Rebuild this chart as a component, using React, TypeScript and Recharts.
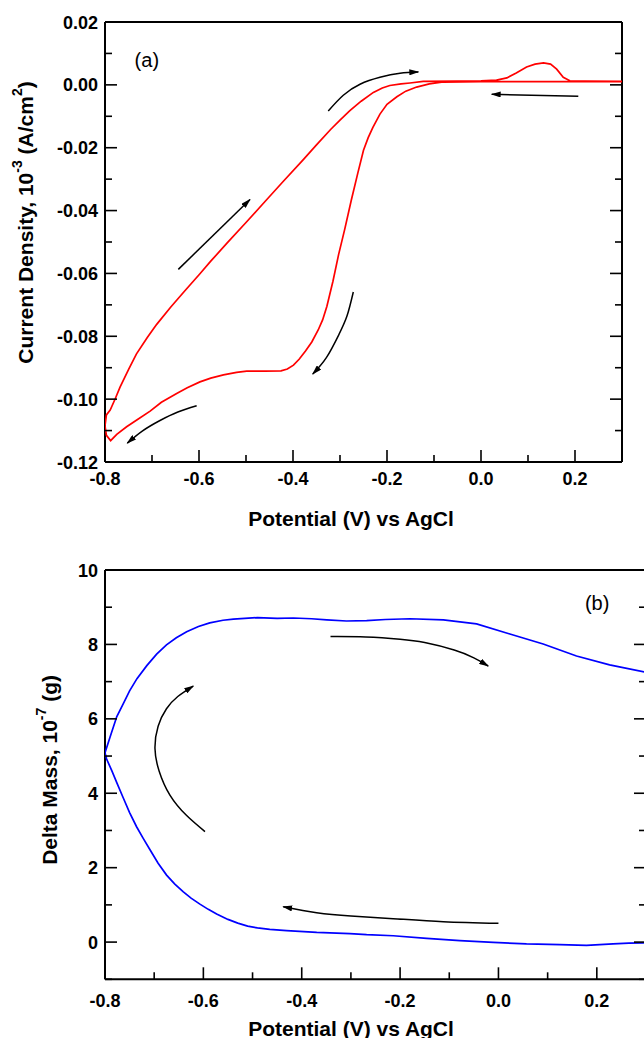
import { ScatterChart, Scatter, XAxis, YAxis } from 'recharts';

// ---------- panel (a): cyclic voltammogram ----------
const CV_LOOP = [
  [0.3, 0.001], [0.2, 0.001], [0.1, 0.001], [0.0, 0.001], [-0.08, 0.0009],
  [-0.11, 0.0003], [-0.137, -0.0007], [-0.16, -0.002], [-0.179, -0.0038],
  [-0.2, -0.0062], [-0.215, -0.0093], [-0.23, -0.0135], [-0.24, -0.0168],
  [-0.25, -0.0208], [-0.262, -0.028], [-0.276, -0.0367], [-0.29, -0.046],
  [-0.303, -0.054], [-0.315, -0.0625], [-0.328, -0.0705], [-0.337, -0.0748],
  [-0.3464, -0.078], [-0.36, -0.0818], [-0.373, -0.0846], [-0.387, -0.0873],
  [-0.399, -0.0892], [-0.412, -0.0904], [-0.4255, -0.091], [-0.46, -0.0911],
  [-0.4985, -0.0911], [-0.52, -0.0915], [-0.548, -0.0923], [-0.575, -0.0933],
  [-0.598, -0.0945], [-0.625, -0.0964], [-0.6475, -0.0982], [-0.68, -0.101],
  [-0.704, -0.1038], [-0.73, -0.1064], [-0.754, -0.1088], [-0.775, -0.1112],
  [-0.788, -0.1132], [-0.797, -0.1115], [-0.8, -0.1085], [-0.797, -0.105],
  [-0.789, -0.1035], [-0.778, -0.0998], [-0.768, -0.0962], [-0.75, -0.0906],
  [-0.733, -0.0856], [-0.71, -0.0804], [-0.69, -0.0762], [-0.66, -0.0707],
  [-0.63, -0.0655], [-0.598, -0.0601], [-0.575, -0.0561], [-0.54, -0.0503],
  [-0.5, -0.0438], [-0.46, -0.0372], [-0.42, -0.0306], [-0.38, -0.0241],
  [-0.35, -0.0191], [-0.32, -0.0142], [-0.3, -0.0112], [-0.279, -0.0082],
  [-0.255, -0.0052], [-0.229, -0.0024], [-0.21, -0.001], [-0.194, -0.0002],
  [-0.17, 0.0003], [-0.151, 0.0006], [-0.123, 0.0011], [-0.05, 0.0012],
  [0.0, 0.0013], [0.033, 0.0015], [0.055, 0.0022], [0.075, 0.0038],
  [0.097, 0.0057], [0.115, 0.0066], [0.133, 0.007], [0.148, 0.0066],
  [0.161, 0.005], [0.175, 0.0024], [0.189, 0.0013], [0.22, 0.0012], [0.3, 0.0011],
];

const ARROWS_A = [
  [[-0.325, -0.0083], [-0.293, -0.0033], [-0.2574, 0.0002], [-0.215, 0.0024], [-0.1723, 0.0037], [-0.1334, 0.0041]],
  [[0.207, -0.0036], [0.0227, -0.003]],
  [[-0.644, -0.0587], [-0.4915, -0.0365]],
  [[-0.2717, -0.0659], [-0.285, -0.0735], [-0.3025, -0.0795], [-0.329, -0.0868], [-0.358, -0.092]],
  [[-0.605, -0.1021], [-0.645, -0.1041], [-0.683, -0.1068], [-0.72, -0.1101], [-0.7525, -0.114]],
];

const A_X_TICKS = [-0.8, -0.7, -0.6, -0.5, -0.4, -0.3, -0.2, -0.1, 0, 0.1, 0.2, 0.3];
const A_X_LABELS = [-0.8, -0.6, -0.4, -0.2, 0, 0.2];
const A_Y_TICKS = [-0.12, -0.11, -0.1, -0.09, -0.08, -0.07, -0.06, -0.05, -0.04, -0.03, -0.02, -0.01, 0, 0.01, 0.02];
const A_Y_LABELS = [-0.12, -0.1, -0.08, -0.06, -0.04, -0.02, 0, 0.02];

// ---------- panel (b): mass change ----------
const MASS_LOOP = [
  [-0.8, 5.09], [-0.79, 5.5], [-0.776, 6.06], [-0.763, 6.4], [-0.75, 6.75],
  [-0.735, 7.08], [-0.715, 7.43], [-0.695, 7.74], [-0.675, 7.99], [-0.655, 8.18],
  [-0.634, 8.34], [-0.61, 8.48], [-0.587, 8.58], [-0.56, 8.65], [-0.539, 8.68],
  [-0.49, 8.72], [-0.45, 8.7], [-0.417, 8.71], [-0.38, 8.69], [-0.349, 8.66],
  [-0.309, 8.63], [-0.268, 8.64], [-0.23, 8.67], [-0.18, 8.69], [-0.112, 8.66],
  [-0.0445, 8.55], [0.0232, 8.28], [0.0909, 8.01], [0.1587, 7.69], [0.226, 7.45],
  [0.3, 7.25], [0.3, -0.02], [0.265, -0.03], [0.233, -0.05], [0.179, -0.09],
  [0.125, -0.07], [0.057, -0.05], [-0.0107, -0.01], [-0.0785, 0.04],
  [-0.146, 0.1], [-0.214, 0.17], [-0.268, 0.2], [-0.302, 0.23], [-0.3695, 0.26],
  [-0.4307, 0.31], [-0.465, 0.34], [-0.49, 0.38], [-0.51, 0.43], [-0.53, 0.51],
  [-0.55, 0.61], [-0.573, 0.755], [-0.59, 0.88], [-0.607, 1.02], [-0.625, 1.18],
  [-0.6407, 1.35], [-0.658, 1.56], [-0.6748, 1.8], [-0.692, 2.12], [-0.7085, 2.48],
  [-0.722, 2.78], [-0.7358, 3.1], [-0.75, 3.48], [-0.763, 3.88], [-0.775, 4.25],
  [-0.786, 4.6], [-0.7967, 4.92], [-0.8, 5.09],
];

const ARROWS_B = [
  [[-0.3415, 8.21], [-0.27, 8.2], [-0.2, 8.14], [-0.15, 8.05], [-0.09, 7.85], [-0.05, 7.64], [-0.0209, 7.42]],
  [[-0.5967, 2.97], [-0.634, 3.4], [-0.668, 3.95], [-0.69, 4.6], [-0.6984, 5.2], [-0.692, 5.8], [-0.675, 6.27], [-0.652, 6.6], [-0.6205, 6.88]],
  [[0.0, 0.505], [-0.112, 0.55], [-0.214, 0.63], [-0.3, 0.7], [-0.3697, 0.79], [-0.4376, 0.95]],
];

const B_X_TICKS = [-0.8, -0.7, -0.6, -0.5, -0.4, -0.3, -0.2, -0.1, 0, 0.1, 0.2, 0.3];
const B_X_LABELS = [-0.8, -0.6, -0.4, -0.2, 0, 0.2];
const B_Y_TICKS = [-1, 0, 1, 2, 3, 4, 5, 6, 7, 8, 9, 10];
const B_Y_LABELS = [0, 2, 4, 6, 8, 10];

const PANEL_A = [{ v: -0.711, y: 0.0078, text: '(a)' }];
const PANEL_B = [{ v: 0.2006, y: 9.12, text: '(b)' }];

const FONT = 'Liberation Sans, Arial, Helvetica, sans-serif';

const toPts = (arr: number[][]) => arr.map(([v, y]) => ({ v, y }));
const isLabel = (labels: number[], val: number) => labels.some((l) => Math.abs(l - val) < 1e-9);

function makeTick(side: string, labels: number[], digits: number, gap: number) {
  return (props: any) => {
    const { x, y, payload } = props;
    const major = isLabel(labels, payload.value);
    const len = major ? 12 : 7;
    const txt = major ? Number(payload.value).toFixed(digits) : null;
    const common = { fontFamily: FONT, fontWeight: 'bold' as const, fontSize: 18, fill: '#000' };
    if (side === 'bottom') {
      return (
        <g>
          <line x1={x} y1={y} x2={x} y2={y - len} stroke="#000" strokeWidth={1.6} />
          {txt && <text x={x} y={y + gap} textAnchor="middle" {...common}>{txt}</text>}
        </g>
      );
    }
    if (side === 'top') {
      return <line x1={x} y1={y} x2={x} y2={y + len} stroke="#000" strokeWidth={1.6} />;
    }
    if (side === 'left') {
      return (
        <g>
          <line x1={x} y1={y} x2={x + len} y2={y} stroke="#000" strokeWidth={1.6} />
          {txt && <text x={x - 7} y={y + 6.5} textAnchor="end" {...common}>{txt}</text>}
        </g>
      );
    }
    return <line x1={x} y1={y} x2={x - len} y2={y} stroke="#000" strokeWidth={1.6} />;
  };
}

const titleStyle = { fontFamily: FONT, fontWeight: 'bold' as const, fontSize: 21, fill: '#000' };

function XTitle(dx: number, dy: number) {
  return (props: any) => {
    const vb = props.viewBox;
    return (
      <text x={vb.x + vb.width / 2 + dx} y={vb.y + dy} textAnchor="middle" dominantBaseline="central" {...titleStyle}>
        Potential (V) vs AgCl
      </text>
    );
  };
}

function YTitle(cxAbs: number, dy: number, main: string, sup: string, tail: string, sup2?: string, tail2?: string) {
  return (props: any) => {
    const vb = props.viewBox;
    const cx = cxAbs;
    const cy = vb.y + vb.height / 2 + dy;
    return (
      <text x={cx} y={cy} transform={`rotate(-90 ${cx} ${cy})`} textAnchor="middle" dominantBaseline="central" {...titleStyle}>
        {main}
        <tspan dy={-8} fontSize={14}>{sup}</tspan>
        <tspan dy={8}>{tail}</tspan>
        {sup2 && <tspan dy={-8} fontSize={14}>{sup2}</tspan>}
        {tail2 && <tspan dy={8}>{tail2}</tspan>}
      </text>
    );
  };
}

const hidden = () => <g />;
const panelText = (props: any) => (
  <text x={props.cx} y={props.cy} textAnchor="middle" dominantBaseline="central" fontFamily={FONT} fontSize={20} fill="#000">
    {props.payload.text}
  </text>
);

const arrowLine = { stroke: '#000', strokeWidth: 1.5, fill: 'none', markerEnd: 'url(#arrowHead)' };

export default function App() {
  return (
    <div style={{ position: 'relative', width: 644, height: 1038, overflow: 'hidden', background: '#fff' }}>
      <style>{'html,body{margin:0;padding:0;overflow:hidden;}'}</style>
      <svg width={0} height={0} style={{ position: 'absolute' }}>
        <defs>
          <marker id="arrowHead" viewBox="0 0 10 6" refX={9} refY={3} markerWidth={10} markerHeight={6}
            markerUnits="userSpaceOnUse" orient="auto">
            <path d="M0,0 L10,3 L0,6 Z" fill="#000" />
          </marker>
        </defs>
      </svg>

      <div style={{ position: 'absolute', left: 0, top: 0 }}>
        <ScatterChart width={644} height={540} margin={{ top: 0, right: 0, bottom: 0, left: 0 }}>
          <XAxis type="number" dataKey="v" domain={[-0.8, 0.3]} allowDataOverflow ticks={A_X_TICKS} interval={0}
            height={78} tickSize={0} tickMargin={0} tickLine={false}
            axisLine={{ stroke: '#000', strokeWidth: 2 }} tick={makeTick('bottom', A_X_LABELS, 1, 23)}
            label={{ content: XTitle(-12.5, 56) }} />
          <XAxis xAxisId="top" orientation="top" type="number" domain={[-0.8, 0.3]} allowDataOverflow ticks={A_X_TICKS}
            interval={0} height={22} tickSize={0} tickMargin={0} tickLine={false}
            axisLine={{ stroke: '#000', strokeWidth: 2 }} tick={makeTick('top', A_X_LABELS, 1, 0)} />
          <YAxis type="number" dataKey="y" domain={[-0.12, 0.02]} allowDataOverflow ticks={A_Y_TICKS} interval={0}
            width={105} tickSize={0} tickMargin={0} tickLine={false}
            axisLine={{ stroke: '#000', strokeWidth: 2 }} tick={makeTick('left', A_Y_LABELS, 2, 0)}
            label={{ content: YTitle(25, -19.5, 'Current Density, 10', '-3', ' (A/cm', '2', ')') }} />
          <YAxis yAxisId="right" orientation="right" type="number" domain={[-0.12, 0.02]} allowDataOverflow
            ticks={A_Y_TICKS} interval={0} width={22} tickSize={0} tickMargin={0} tickLine={false}
            axisLine={{ stroke: '#000', strokeWidth: 2 }} tick={makeTick('right', A_Y_LABELS, 2, 0)} />
          <Scatter data={toPts(CV_LOOP)} line={{ stroke: '#ff0000', strokeWidth: 1.7, fill: 'none' }}
            shape={hidden} isAnimationActive={false} />
          {ARROWS_A.map((a, i) => (
            <Scatter key={`aa${i}`} data={toPts(a)} line={arrowLine} lineJointType="natural"
              shape={hidden} isAnimationActive={false} />
          ))}
          <Scatter data={PANEL_A} shape={panelText} isAnimationActive={false} />
        </ScatterChart>
      </div>

      <div style={{ position: 'absolute', left: 0, top: 540 }}>
        <ScatterChart width={668} height={498} margin={{ top: 0, right: 0, bottom: 0, left: 0 }}>
          <XAxis type="number" dataKey="v" domain={[-0.8, 0.3]} allowDataOverflow ticks={B_X_TICKS} interval={0}
            height={58.7} tickSize={0} tickMargin={0} tickLine={false}
            axisLine={{ stroke: '#000', strokeWidth: 2 }} tick={makeTick('bottom', B_X_LABELS, 1, 27.5)}
            label={{ content: XTitle(-24.5, 48.7) }} />
          <XAxis xAxisId="top" orientation="top" type="number" domain={[-0.8, 0.3]} allowDataOverflow ticks={B_X_TICKS}
            interval={0} height={30} tickSize={0} tickMargin={0} tickLine={false}
            axisLine={{ stroke: '#000', strokeWidth: 2 }} tick={makeTick('top', B_X_LABELS, 1, 0)} />
          <YAxis type="number" dataKey="y" domain={[-1, 10]} allowDataOverflow ticks={B_Y_TICKS} interval={0}
            width={105} tickSize={0} tickMargin={0} tickLine={false}
            axisLine={{ stroke: '#000', strokeWidth: 2 }} tick={makeTick('left', B_Y_LABELS, 0, 0)}
            label={{ content: YTitle(49.5, -4.7, 'Delta Mass, 10', '-7', ' (g)') }} />
          <YAxis yAxisId="right" orientation="right" type="number" domain={[-1, 10]} allowDataOverflow
            ticks={B_Y_TICKS} interval={0} width={22} tickSize={0} tickMargin={0} tickLine={false}
            axisLine={{ stroke: '#000', strokeWidth: 2 }} tick={makeTick('right', B_Y_LABELS, 0, 0)} />
          <Scatter data={toPts(MASS_LOOP)} line={{ stroke: '#0000ff', strokeWidth: 1.7, fill: 'none' }}
            shape={hidden} isAnimationActive={false} />
          {ARROWS_B.map((a, i) => (
            <Scatter key={`ab${i}`} data={toPts(a)} line={arrowLine} lineJointType="natural"
              shape={hidden} isAnimationActive={false} />
          ))}
          <Scatter data={PANEL_B} shape={panelText} isAnimationActive={false} />
        </ScatterChart>
      </div>
    </div>
  );
}
